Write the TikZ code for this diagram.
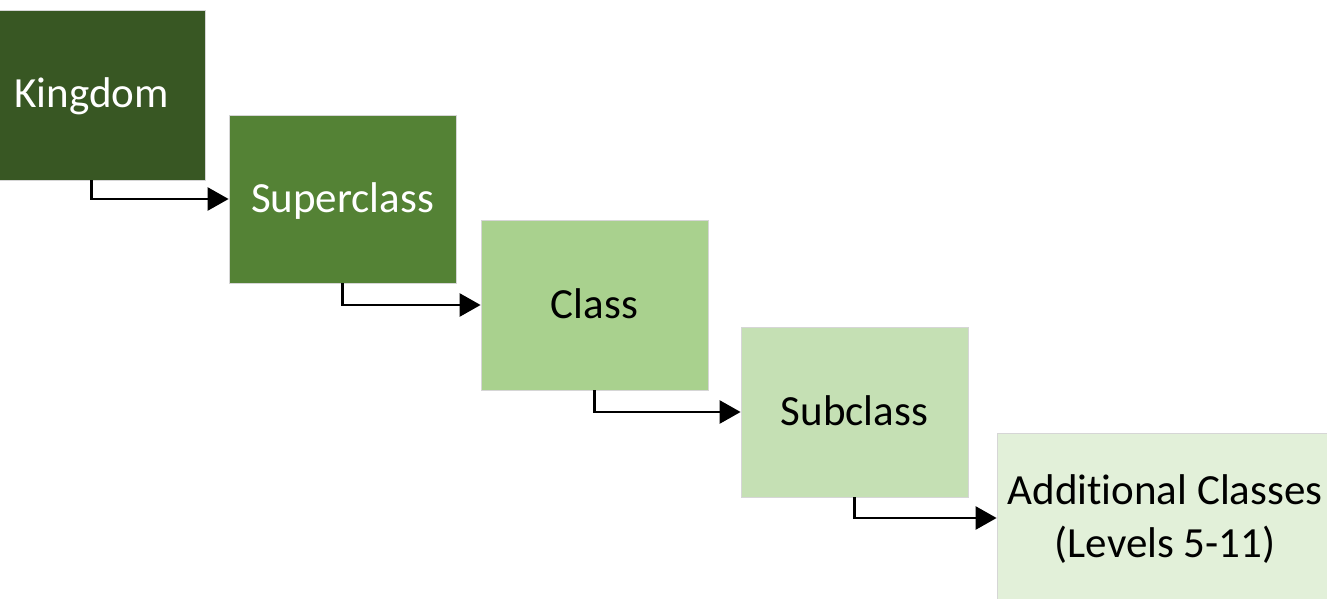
\documentclass[tikz,border=0pt]{standalone}
\usepackage{fontspec}
\setmainfont[Ligatures={NoCommon}]{Carlito}
\usetikzlibrary{arrows.meta}
\definecolor{lvlA}{HTML}{385723}
\definecolor{lvlB}{HTML}{548235}
\definecolor{lvlC}{HTML}{A9D18E}
\definecolor{lvlD}{HTML}{C5E0B4}
\definecolor{lvlE}{HTML}{E2F0D9}
\definecolor{edge}{HTML}{D6D6D6}
% line strut so every line is centred on its full ascent/descent box
\newcommand{\linestrut}{\rule[-8.5pt]{0pt}{43pt}}
\begin{document}
\begin{tikzpicture}[x=1pt,y=-1pt,
  level/.style={rectangle, draw=edge, line width=0.8pt, minimum width=227pt,
    minimum height=170pt, inner sep=0pt, align=center,
    font=\fontsize{43}{53}\selectfont},
  link/.style={draw=black, line width=2.6pt,
    -{Triangle[length=21pt,width=23pt]}}]
\useasboundingbox (0,0) rectangle (1327,599);
\begin{scope}
\clip (0,0) rectangle (1327,599);
\node[level, fill=lvlA, text=white] (king) at (91.5,95) {\linestrut Kingdom};
\node[level, fill=lvlB, text=white, minimum height=168pt] (super) at (342.5,199) {\linestrut Superclass};
\node[level, fill=lvlC] (cls) at (594.5,305) {\linestrut Class};
\node[level, fill=lvlD] (sub) at (854.5,412) {\linestrut Subclass};
\node[level, fill=lvlE, minimum width=336pt] (more) at (1165,518)
  {\linestrut Addit\kern0pt ional Classes\\\linestrut (Levels 5-11)};
\end{scope}
\draw[link] (king.south) |- (super.west);
\draw[link] (super.south) |- (cls.west);
\draw[link] (cls.south) |- (sub.west);
\draw[link] (sub.south) |- (more.west);
\end{tikzpicture}
\end{document}
